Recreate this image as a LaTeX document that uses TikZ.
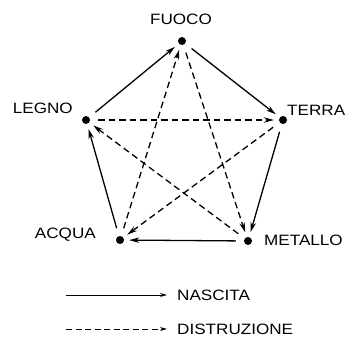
\documentclass[tikz,border=0pt]{standalone}
\usepackage{fontspec}
\setmainfont{Liberation Sans}[FakeStretch=1.14]
\usetikzlibrary{arrows.meta}
\begin{document}
\begin{tikzpicture}[x=1pt,y=-1pt,
  dot/.style={circle,fill=black,inner sep=0pt,minimum size=8pt},
  lbl/.style={inner sep=0pt,font=\fontsize{15}{17}\selectfont},
  conn/.style={line width=1.3pt,-{Stealth[length=10pt,width=5.5pt]},shorten <=8pt,shorten >=5pt},
  dsh/.style={conn,dash pattern=on 6.5pt off 4pt},
  leg/.style={line width=1pt,-{Stealth[length=7pt,width=4pt]}},
  legd/.style={leg,dash pattern=on 6pt off 3.5pt}]
\useasboundingbox (0,0) rectangle (347,338);
\node[dot] (F) at (182,41) {};
\node[dot] (L) at (86,120) {};
\node[dot] (T) at (283,120) {};
\node[dot] (A) at (120,240) {};
\node[dot] (M) at (248,241) {};
\node[lbl] (tF) at (181,19) {FUOCO};
\node[lbl,anchor=east] (tL) at (73,108) {LEGNO};
\node[lbl,anchor=west] (tT) at (287,110) {TERRA};
\node[lbl,anchor=east] (tA) at (96,235) {ACQUA};
\node[lbl,anchor=west] (tM) at (264,240) {METALLO};
% nascita
\draw[conn] (L) -- (F);
\draw[conn] (F) -- (T);
\draw[conn] (T) -- (M);
\draw[conn] (M) -- (A);
\draw[conn] (A) -- (L);
% distruzione
\draw[dsh] (L) -- (T);
\draw[dsh] (T) -- (A);
\draw[dsh] (A) -- (F);
\draw[dsh] (F) -- (M);
\draw[dsh] (M) -- (L);
% legend
\coordinate (n1) at (66,295);
\coordinate (n2) at (167,295);
\coordinate (d1) at (66,329);
\coordinate (d2) at (167,329);
\draw[leg] (n1) -- (n2);
\draw[legd] (d1) -- (d2);
\node[lbl,anchor=west] (tN) at (177,295) {NASCITA};
\node[lbl,anchor=west] (tD) at (177,329) {DISTRUZIONE};
\end{tikzpicture}
\end{document}
